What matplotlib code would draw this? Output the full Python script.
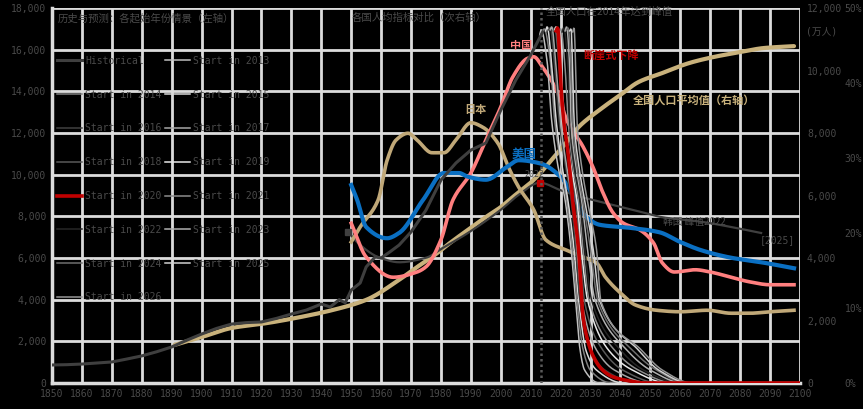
import numpy as np
import matplotlib
matplotlib.use("Agg")
import matplotlib.pyplot as plt

plt.rcParams['font.family'] = ['DejaVu Sans Mono', 'Noto Sans CJK SC']
CJK = ['Noto Sans CJK SC', 'DejaVu Sans']

# 历史值（左轴）
hist_years = [1850, 1855, 1860, 1865, 1870, 1875, 1880, 1885, 1890, 1895, 1900, 1905,
              1910, 1915, 1920, 1925, 1930, 1935, 1940, 1943, 1946, 1948, 1950, 1953,
              1955, 1958, 1960, 1963, 1966, 1970, 1975, 1980, 1985, 1990, 1995, 2000,
              2005, 2010, 2014]
hist_vals = [865, 880, 910, 960, 1010, 1150, 1300, 1500, 1730, 2050, 2350, 2620,
             2830, 2900, 2930, 3100, 3310, 3500, 3790, 3650, 4000, 3850, 4460, 4800,
             5570, 6050, 6000, 6300, 6620, 7250, 8300, 9740, 10560, 11180, 11520, 13100,
             14540, 15740, 16850]

# 各起始年份的预测（左轴）
fc_years = {
    2013: [2013, 2013.5, 2015.5, 2017, 2019, 2021.5, 2023.5, 2025, 2026.5, 2028, 2033, 2100],
    2014: [2014, 2014.5, 2016.5, 2018, 2020, 2022, 2024, 2025.5, 2027.5, 2030, 2037, 2100],
    2015: [2015, 2015.5, 2017, 2018.5, 2020.5, 2022.5, 2024.5, 2026, 2028.5, 2032, 2041, 2100],
    2016: [2016, 2016.5, 2018, 2019.5, 2021.5, 2023.5, 2025, 2026.5, 2030, 2035, 2046, 2100],
    2017: [2016.5, 2017, 2018.5, 2020, 2022, 2024, 2025.5, 2027, 2032, 2038, 2050, 2100],
    2018: [2017.5, 2018, 2019.5, 2021, 2023, 2025, 2026.5, 2028, 2034, 2041, 2053, 2100],
    2019: [2018, 2018.5, 2020, 2021.5, 2023.5, 2025.5, 2027, 2029, 2036, 2044, 2056, 2100],
    2020: [2018.5, 2019, 2020, 2021, 2022.5, 2024, 2026, 2027.5, 2029, 2031, 2034, 2037.5,
           2043, 2048, 2100],
    2021: [2019.5, 2020, 2021.5, 2022.5, 2024, 2026, 2027.5, 2029.5, 2038, 2046, 2058, 2100],
    2022: [2020.5, 2021, 2022.5, 2023, 2024.5, 2026.5, 2028, 2030.5, 2040, 2048, 2060, 2100],
    2023: [2021.5, 2022, 2023, 2023.5, 2025, 2027, 2029, 2031.5, 2042, 2050, 2061, 2100],
    2024: [2022, 2022.5, 2023.5, 2024, 2025.5, 2027.5, 2030, 2032.5, 2044, 2052, 2062, 2100],
    2025: [2023, 2023.5, 2024, 2024.5, 2026, 2028, 2031, 2033, 2046, 2053, 2063, 2100],
    2026: [2024, 2024.5, 2025, 2025.5, 2027, 2029, 2032, 2033.5, 2047, 2054, 2064, 2100],
}
fc_vals = {
    2013: [16700, 16950, 15400, 12600, 10500, 8780, 6400, 3980, 1580, 620, 0, 0],
    2014: [16850, 17000, 15500, 12600, 10600, 8800, 6300, 3900, 1600, 600, 0, 0],
    2015: [16900, 17100, 15300, 12600, 10400, 8700, 6400, 4000, 1550, 620, 0, 0],
    2016: [16950, 17050, 15200, 12600, 10500, 8780, 6500, 3900, 1580, 600, 0, 0],
    2017: [16950, 17100, 15100, 12500, 10400, 8700, 6400, 3980, 1580, 620, 0, 0],
    2018: [16900, 17050, 15200, 12600, 10500, 8780, 6400, 3900, 1600, 600, 0, 0],
    2019: [16950, 17100, 15000, 12500, 10400, 8700, 6300, 3980, 1580, 620, 0, 0],
    2020: [16900, 17050, 14500, 12620, 11000, 8780, 6380, 3170, 2060, 1250, 620, 290,
           100, 0, 0],
    2021: [16900, 17000, 15100, 12600, 10500, 8780, 6400, 3980, 1580, 620, 0, 0],
    2022: [16850, 17050, 15000, 12600, 10400, 8700, 6500, 3900, 1580, 600, 0, 0],
    2023: [16900, 17100, 15200, 12500, 10500, 8780, 6400, 3980, 1600, 620, 0, 0],
    2024: [16950, 17050, 15100, 12600, 10400, 8700, 6400, 3900, 1580, 620, 0, 0],
    2025: [16900, 17000, 15000, 12600, 10500, 8780, 6300, 3980, 1580, 600, 0, 0],
    2026: [16850, 17050, 15200, 12500, 10400, 8700, 6400, 3900, 1580, 620, 0, 0],
}
fc_colors = {
    2013: '#bfbfbf', 2014: '#7f7f7f', 2015: '#d9d9d9', 2016: '#404040',
    2017: '#a6a6a6', 2018: '#595959', 2019: '#e8e8e8', 2020: '#c00000',
    2021: '#8c8c8c', 2022: '#262626', 2023: '#b0b0b0', 2024: '#6e6e6e',
    2025: '#d0d0d0', 2026: '#959595',
}

# 全国人口平均值（右轴）
avg_years = [1891, 1900, 1910, 1922, 1933, 1944, 1955, 1966, 1972, 1977, 1983, 1989,
             1995, 2000, 2004, 2011, 2017, 2022, 2026, 2033, 2040, 2046, 2054, 2063,
             2071, 2080, 2088, 2098]
avg_vals = [1220, 1470, 1760, 1920, 2110, 2340, 2660, 3300, 3710, 4030, 4480, 4900,
            5310, 5630, 5950, 6500, 7140, 7710, 8190, 8740, 9220, 9630, 9920, 10240,
            10430, 10590, 10720, 10780]

# 各国（次右轴，%）
cn_years = [1950, 1955, 1964, 1972, 1975, 1980, 1984, 1990, 1995, 2000, 2004, 2009,
            2011, 2014, 2019, 2022, 2027.5, 2031, 2034, 2037.5, 2041, 2046.5, 2051,
            2054, 2058, 2065, 2070, 2077, 2083, 2090, 2098]
cn_vals = [21.3, 16.8, 14.1, 14.8, 15.5, 19.1, 24.4, 28.0, 32.4, 36.8, 40.8, 43.3,
           43.5, 42.1, 38.7, 35.1, 31.5, 28.6, 25.5, 22.7, 21.3, 20.4, 18.7,
           16.0, 14.8, 15.1, 14.8, 14.1, 13.5, 13.1, 13.1]
us_years = [1950, 1952, 1955, 1962, 1966, 1974, 1981, 1986, 1989, 1995, 2002, 2006,
            2013, 2020, 2025, 2028, 2033, 2043, 2053, 2060, 2067, 2077, 2087, 2098]
us_vals = [26.4, 24.4, 20.8, 19.3, 20.0, 24.4, 28.0, 28.0, 27.5, 27.1, 28.8, 29.7,
           29.3, 27.5, 24.4, 22.4, 21.1, 20.7, 20.1, 18.8, 17.7, 16.7, 16.1, 15.3]
jp_years = [1950, 1953, 1959, 1962, 1965, 1969, 1972, 1977, 1981, 1985, 1990, 1994,
            1999, 2003, 2006, 2011, 2015, 2022, 2027.5, 2032, 2035, 2040, 2045, 2052,
            2060, 2069, 2077, 2083, 2090, 2098]
jp_vals = [18.8, 20.8, 24.4, 29.7, 32.4, 33.3, 32.4, 30.7, 30.7, 32.4, 34.7, 34.1,
           32.0, 28.4, 26.1, 23.1, 19.1, 17.7, 16.8, 16.0, 14.1, 12.0, 10.4, 9.7,
           9.5, 9.7, 9.3, 9.3, 9.5, 9.7]
kr_years = [1949, 1953, 1959, 1966, 1975, 1981, 1989, 2000, 2006, 2013, 2020, 2026,
            2035, 2047, 2054, 2067, 2077, 2087]
kr_vals = [20.1, 18.4, 16.8, 16.1, 16.7, 18.1, 20.0, 23.1, 25.1, 26.7, 25.7, 24.9,
           24.0, 22.8, 22.1, 21.5, 20.8, 20.0]

left_ticks = list(range(0, 18001, 2000))
r1_ticks = list(range(0, 12001, 2000))
r2_ticks = [0, 10, 20, 30, 40, 50]
x_ticks = list(range(1850, 2101, 10))
peak_year = 2013.5

TXT = '#4a4a4a'
GRID = '#dcdcdc'
BG = '#000000'


def smooth(x, y, n=400):
    # 单调三次插值，仅用于画平滑曲线
    x = np.asarray(x, float)
    y = np.asarray(y, float)
    h = np.diff(x)
    d = np.diff(y) / h
    m = np.zeros_like(y)
    m[0], m[-1] = d[0], d[-1]
    for k in range(1, len(x) - 1):
        if d[k - 1] * d[k] > 0:
            w1 = 2 * h[k] + h[k - 1]
            w2 = h[k] + 2 * h[k - 1]
            m[k] = (w1 + w2) / (w1 / d[k - 1] + w2 / d[k])
    xs = np.linspace(x[0], x[-1], n)
    i = np.clip(np.searchsorted(x, xs) - 1, 0, len(h) - 1)
    t = (xs - x[i]) / h[i]
    ys = ((2 * t**3 - 3 * t**2 + 1) * y[i] + (t**3 - 2 * t**2 + t) * h[i] * m[i]
          + (-2 * t**3 + 3 * t**2) * y[i + 1] + (t**3 - t**2) * h[i] * m[i + 1])
    return xs, ys


fig = plt.figure(figsize=(8.63, 4.09), dpi=100, facecolor=BG)
rect = [52 / 863, 1 - 383 / 409, 748 / 863, 375 / 409]
ax = fig.add_axes(rect)
ax.set_facecolor(BG)
ax.set_xlim(1850, 2100)
ax.set_ylim(0, 18000)
ax.set_xticks(x_ticks)
ax.set_yticks(left_ticks)
ax.set_yticklabels([f'{v:,}' for v in left_ticks])
ax.grid(True, color=GRID, lw=2)
ax.tick_params(length=0, labelsize=7, colors=TXT, pad=4)
for s in ['top', 'right']:
    ax.spines[s].set_visible(False)
for s in ['left', 'bottom']:
    ax.spines[s].set_color(GRID)
    ax.spines[s].set_linewidth(2.5)

# 右轴：全国人口平均值
ax_r1 = ax.twinx()
ax_r1.set_ylim(0, 12000)
ax_r1.set_yticks(r1_ticks)
ax_r1.set_yticklabels([f'{v:,}' for v in r1_ticks])
ax_r1.tick_params(length=0, labelsize=7, colors=TXT, pad=5)
for s in ax_r1.spines.values():
    s.set_visible(False)
ax_r1.plot(*smooth(avg_years, avg_vals), color='#c9b27c', lw=3, solid_capstyle='round')

# 次右轴：各国
ax_r2 = ax.twinx()
ax_r2.set_ylim(0, 50)
ax_r2.set_yticks(r2_ticks)
ax_r2.set_yticklabels([f'{v}%' for v in r2_ticks])
ax_r2.spines['right'].set_position(('outward', 28))
for s in ax_r2.spines.values():
    s.set_visible(False)
ax_r2.tick_params(length=0, labelsize=7, colors=TXT, pad=4)
ax_r2.plot(*smooth(kr_years, kr_vals), color='#404040', lw=1.6)
ax_r2.plot(*smooth(jp_years, jp_vals), color='#c0a878', lw=2.6)
ax_r2.plot(*smooth(cn_years, cn_vals), color='#ff7f7f', lw=2.6)
ax_r2.plot(*smooth(us_years, us_vals), color='#0a6fc2', lw=3)
kp = int(np.argmax(kr_vals))
ax_r2.plot(kr_years[0], kr_vals[0], 's', color='#404040', ms=4)
ax_r2.plot(kr_years[kp], kr_vals[kp], 's', color='#c00000', ms=5)

# 左轴：历史值与预测
ax_fc = ax.twinx()
ax_fc.set_ylim(0, 18000)
ax_fc.set_yticks([])
for s in ax_fc.spines.values():
    s.set_visible(False)
ax_fc.axvline(peak_year, color='#5a5a5a', lw=1.8, ls=(0, (1, 1.2)))

handles = {}
for yr in fc_years:
    if yr == 2020:
        continue
    ln, = ax_fc.plot(*smooth(fc_years[yr], fc_vals[yr]), color=fc_colors[yr], lw=1.1)
    handles[yr] = ln
h_hist, = ax_fc.plot(hist_years, hist_vals, color='#3f3f3f', lw=2.2)
handles[2020], = ax_fc.plot(*smooth(fc_years[2020], fc_vals[2020]),
                            color=fc_colors[2020], lw=2.6)

order_left = [None, 2014, 2016, 2018, 2020, 2022, 2024, 2026]
order_right = [2013, 2015, 2017, 2019, 2021, 2023, 2025]
leg_h, leg_l = [], []
for yr in order_left + order_right:
    if yr is None:
        leg_h.append(h_hist)
        leg_l.append('Historical')
    else:
        leg_h.append(handles[yr])
        leg_l.append(f'Start in {yr}')
ax_fc.legend(leg_h, leg_l, ncol=2, loc='upper left', frameon=False,
             bbox_to_anchor=(48 / 863, 1 - 47 / 409), bbox_transform=fig.transFigure,
             fontsize=7, labelspacing=2.45, handlelength=2.6, handletextpad=0.3,
             columnspacing=0.4, labelcolor=TXT)

ax.set_zorder(1)
ax_r1.set_zorder(2)
ax_r2.set_zorder(3)
ax_fc.set_zorder(4)


def fx(x, y):
    return x / 863, 1 - y / 409


fig.text(*fx(58, 18), '历史与预测：各起始年份情景（左轴）', fontsize=7.5, color=TXT,
         va='center', family=CJK)
fig.text(*fx(352, 18), '各国人均指标对比（次右轴）', fontsize=7.5, color=TXT,
         va='center', family=CJK)
fig.text(*fx(546, 12), '全国人口在2014年达到峰值', fontsize=7.5, color=TXT,
         va='center', family=CJK)
fig.text(*fx(583, 55), '断崖式下降', fontsize=8, color='#c00000', fontweight='bold',
         va='center', family=CJK)
fig.text(*fx(510, 46), '中国', fontsize=8, color='#ff7f7f', fontweight='bold',
         va='center', family=CJK)
fig.text(*fx(464, 110), '日本', fontsize=8, color='#c0a878', fontweight='bold',
         va='center', family=CJK)
fig.text(*fx(512, 154), '美国', fontsize=9, color='#0a6fc2', fontweight='bold',
         va='center', family=CJK)
fig.text(*fx(633, 100), '全国人口平均值（右轴）', fontsize=8, color='#c9b27c',
         fontweight='bold', va='center', family=CJK)
fig.text(*fx(663, 222), '韩国 峰值2022', fontsize=7, color=TXT, va='center', family=CJK)
fig.text(*fx(760, 240), '[2025]', fontsize=7, color=TXT, va='center')
fig.text(*fx(524, 175), '2022', fontsize=6, color=TXT, va='center')
fig.text(*fx(822, 32), '(万人)', fontsize=7, color=TXT, va='center', ha='center')

fig.savefig('out.png', dpi=100, facecolor=BG)
